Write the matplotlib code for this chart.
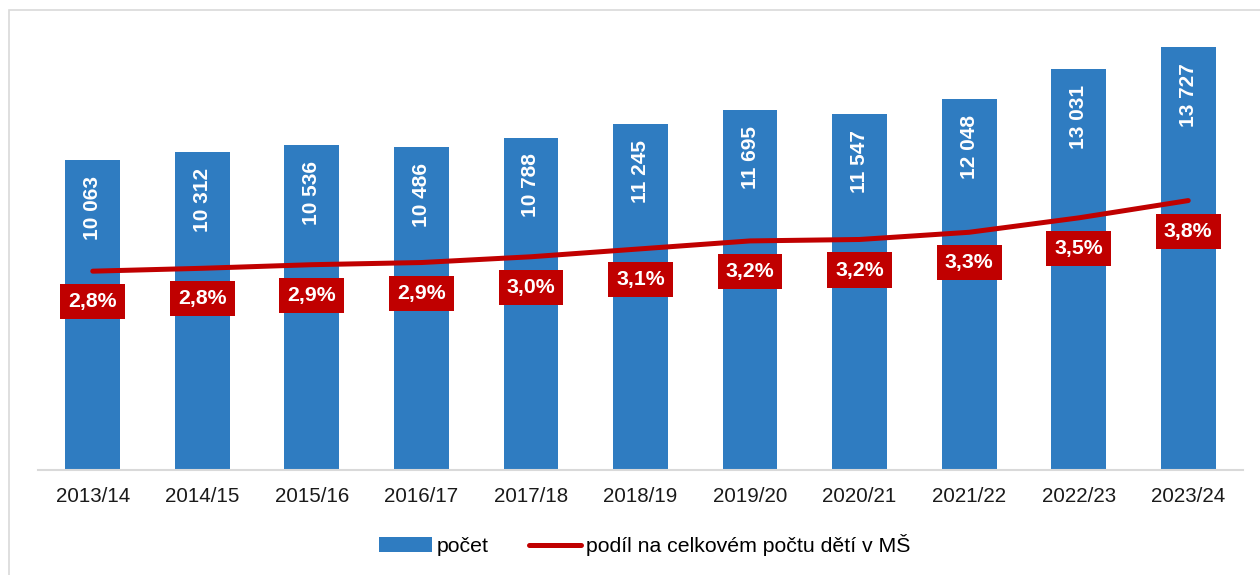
import matplotlib.pyplot as plt
from matplotlib.patches import Rectangle

plt.rcParams['font.family'] = ['Liberation Sans', 'DejaVu Sans']

roky = ['2013/14', '2014/15', '2015/16', '2016/17', '2017/18', '2018/19',
        '2019/20', '2020/21', '2021/22', '2022/23', '2023/24']
pocet = [10063, 10312, 10536, 10486, 10788, 11245, 11695, 11547, 12048, 13031, 13727]
podil = [2.80, 2.84, 2.89, 2.92, 3.00, 3.11, 3.22, 3.24, 3.34, 3.54, 3.78]

MODRA = '#2F7CC1'
CERVENA = '#C00000'

fig = plt.figure(figsize=(12.6, 5.75), dpi=100)
ax = fig.add_axes([38 / 1260, 1 - 470 / 575, 1205 / 1260, 456 / 575])
x = list(range(len(roky)))

bars = ax.bar(x, pocet, width=0.5, color=MODRA, label='počet', zorder=2)
ax.set_xlim(-0.5, len(roky) - 0.5)
ax.set_ylim(0, 14800)
ax.set_yticks([])
for s in ['top', 'right', 'left']:
    ax.spines[s].set_visible(False)
ax.spines['bottom'].set_color('#D9D9D9')
ax.spines['bottom'].set_linewidth(1.5)
ax.set_xticks(x)
ax.set_xticklabels(roky, fontsize=14.8, color='#1a1a1a')
ax.tick_params(axis='x', length=0, pad=12)

for xi, v in zip(x, pocet):
    ax.annotate(f'{v:,}'.replace(',', ' '), (xi, v), xytext=(0, -11.5),
                textcoords='offset points', rotation=90, ha='center', va='top',
                color='white', fontsize=15, fontweight='bold')

ax2 = ax.twinx()
ax2.set_ylim(0.04, 6.37)
ax2.set_yticks([])
for s in ax2.spines.values():
    s.set_visible(False)
line, = ax2.plot(x, podil, color=CERVENA, lw=3.6, solid_capstyle='round',
                 label='podíl na celkovém počtu dětí v MŠ', zorder=3)

for xi, v in zip(x, podil):
    ax2.annotate(f'{v:.1f}%'.replace('.', ','), (xi, v), xytext=(0, -22),
                 textcoords='offset points', ha='center', va='center',
                 color='white', fontsize=15.3, fontweight='bold',
                 bbox=dict(boxstyle='square,pad=0.38', fc=CERVENA, ec='none'))

fig.legend(handles=[bars, line], loc='center',
           bbox_to_anchor=(0.5 + 15 / 1260, 1 - 545 / 575),
           ncol=2, frameon=False, fontsize=15.3, handlelength=2.45,
           handletextpad=0.24, columnspacing=1.9)

fig.patches.append(Rectangle((9 / 1260, -0.05), 1.1, 1 - 10 / 575 + 0.05,
                             transform=fig.transFigure, fill=False,
                             ec='#D9D9D9', lw=1.2, clip_on=False))

fig.savefig('out.png', dpi=100)
